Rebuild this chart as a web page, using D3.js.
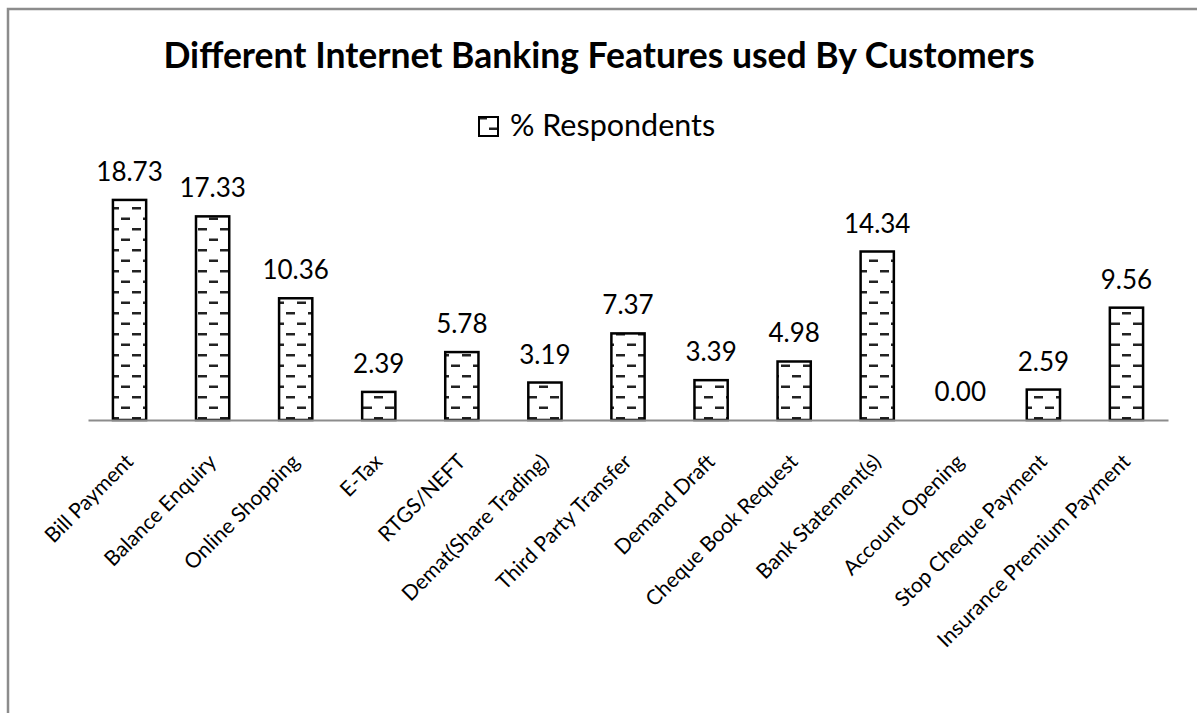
<!DOCTYPE html>
<html>
<head>
<meta charset="utf-8">
<script src="https://cdn.jsdelivr.net/npm/d3@7"></script>
<style>
  body { margin: 0; background: #fff; }
  svg text { font-family: Lato, "Open Sans", sans-serif; fill: #000; }
</style>
</head>
<body>
<div id="chart"></div>
<script>
// Data
//=================================
var categories = ["Bill Payment", "Balance Enquiry", "Online Shopping", "E-Tax", "RTGS/NEFT",
  "Demat(Share Trading)", "Third Party Transfer", "Demand Draft", "Cheque Book Request",
  "Bank Statement(s)", "Account Opening", "Stop Cheque Payment", "Insurance Premium Payment"];
var respondents = [18.73, 17.33, 10.36, 2.39, 5.78, 3.19, 7.37, 3.39, 4.98, 14.34, 0.00, 2.59, 9.56];
var seriesName = "% Respondents";
var chartTitle = "Different Internet Banking Features used By Customers";

// Set up the chart
//=================================
var svgWidth = 1197;
var svgHeight = 713;
var margin = { top: 185, right: 29, bottom: 293, left: 88 };
var width = svgWidth - margin.left - margin.right;
var height = svgHeight - margin.top - margin.bottom;

var svg = d3.select("#chart")
  .append("svg")
  .attr("width", svgWidth)
  .attr("height", svgHeight);

// dashed horizontal pattern
var defs = svg.append("defs");
var pat = defs.append("pattern")
  .attr("id", "dashes")
  .attr("patternUnits", "userSpaceOnUse")
  .attr("width", 22)
  .attr("height", 21);
pat.append("rect").attr("width", 22).attr("height", 21).attr("fill", "#fff");
pat.append("rect").attr("x", 0).attr("y", 1).attr("width", 9).attr("height", 2.5).attr("fill", "#222");
pat.append("rect").attr("x", 11).attr("y", 11.5).attr("width", 9).attr("height", 2.5).attr("fill", "#222");

// outer border (cut off at right and bottom)
svg.append("rect")
  .attr("x", 8)
  .attr("y", 9)
  .attr("width", 1250)
  .attr("height", 800)
  .attr("fill", "none")
  .attr("stroke", "#8c8c8c")
  .attr("stroke-width", 2.5);

var chartGroup = svg.append("g")
  .attr("transform", `translate(${margin.left}, ${margin.top})`);

var xScale = d3.scaleBand()
  .domain(categories)
  .range([0, width])
  .paddingInner(0.6)
  .paddingOuter(0.3);

var yScale = d3.scaleLinear()
  .domain([0, 20])
  .range([height, 0]);

// bars
chartGroup.selectAll(".bar")
  .data(respondents)
  .enter()
  .append("rect")
  .attr("class", "bar")
  .attr("x", (d, i) => xScale(categories[i]))
  .attr("y", d => yScale(d))
  .attr("width", xScale.bandwidth())
  .attr("height", d => height - yScale(d))
  .attr("fill", "url(#dashes)")
  .attr("stroke", d => d > 0 ? "#000" : "none")
  .attr("stroke-width", 2.5);

// x axis line
var bottomAxis = d3.axisBottom(xScale).tickSize(0).tickFormat("");
var xAxis = chartGroup.append("g")
  .attr("transform", `translate(0, ${height})`)
  .call(bottomAxis);
xAxis.select(".domain").attr("stroke", "#8c8c8c").attr("stroke-width", 2);

// category labels
chartGroup.selectAll(".cat")
  .data(categories)
  .enter()
  .append("text")
  .attr("class", "cat")
  .attr("transform", d => `translate(${xScale(d) + xScale.bandwidth() / 2 + 5}, ${height + 43}) rotate(-45)`)
  .attr("text-anchor", "end")
  .attr("font-size", "21px")
  .text(d => d);

// value labels
chartGroup.selectAll(".val")
  .data(respondents)
  .enter()
  .append("text")
  .attr("class", "val")
  .attr("x", (d, i) => xScale(categories[i]) + xScale.bandwidth() / 2)
  .attr("y", d => yScale(d) - 19)
  .attr("text-anchor", "middle")
  .attr("font-size", "26px")
  .text(d => d.toFixed(2));

// title
svg.append("text")
  .attr("x", 599)
  .attr("y", 68)
  .attr("text-anchor", "middle")
  .attr("font-size", "35.5px")
  .attr("font-weight", "bold")
  .text(chartTitle);

// legend
var legend = svg.append("g").attr("transform", "translate(478, 116)");
legend.append("rect")
  .attr("x", 1).attr("y", 1)
  .attr("width", 19).attr("height", 19)
  .attr("fill", "url(#dashes)")
  .attr("stroke", "#000")
  .attr("stroke-width", 2);
legend.append("text")
  .attr("x", 32)
  .attr("y", 20)
  .attr("font-size", "30.5px")
  .text(seriesName);
</script>
</body>
</html>
